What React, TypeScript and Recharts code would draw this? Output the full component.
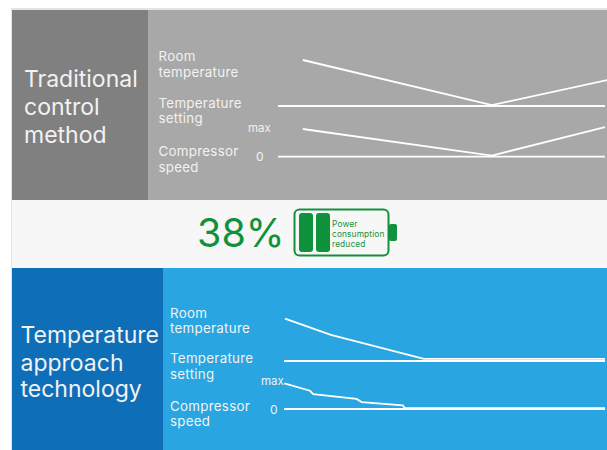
import React from "react";
import { LineChart, Line, XAxis, YAxis } from "recharts";

const W = 607;
const H = 450;
const FONT = "Inter, 'Noto Sans', sans-serif";

type P = { t: number; v: number };
const pts = (ts: number[], vs: number[]): P[] => ts.map((t, i) => ({ t, v: vs[i] }));

// Traditional control method (time %, level %)
const tradRoomTime = [7.6, 65.4, 101];
const tradRoomValue = [100, 2, 57];
const tradSettingTime = [0, 100];
const tradSettingValue = [0, 0];
const tradSpeedTime = [7.6, 65.4, 100];
const tradSpeedValue = [100, 4, 107];
const tradZeroTime = [0, 100];
const tradZeroValue = [0, 0];

// Temperature approach technology (time %, level %)
const techRoomTime = [0.3, 14.6, 43.6, 100];
const techRoomValue = [100, 62, 5, 5];
const techSettingTime = [0, 100];
const techSettingValue = [0, 0];
const techSpeedTime = [0.1, 8.1, 9.1, 22.6, 24.2, 37, 37.7, 100];
const techSpeedValue = [100, 71, 58, 39, 27, 14, 3, 3];
const techZeroTime = [0, 100];
const techZeroValue = [0, 0];

const xDomain = (p0: number, p100: number): [number, number] => {
  const k = 100 / (p100 - p0);
  return [-p0 * k, (W - p0) * k];
};
const yDomain = (p0: number, p100: number): [number, number] => {
  const k = 100 / (p0 - p100);
  return [(p0 - H) * k, p0 * k];
};

const Txt = ({ x, y, size, fill = "#f2f2f2", spacing = 0, children }: any) => (
  <text x={x} y={y} fontSize={size} fill={fill} fontFamily={FONT} letterSpacing={spacing}>
    {children}
  </text>
);
const Label = ({ x, y, children }: any) => (
  <Txt x={x} y={y} size={13.3} spacing={0.3}>{children}</Txt>
);

const GREEN = "#10913c";

export default function App() {
  const line = (id: string, xId: string, yId: string, data: P[], sw = 1.8) => (
    <Line
      key={id}
      data={data}
      dataKey="v"
      xAxisId={xId}
      yAxisId={yId}
      type="linear"
      stroke="#ffffff"
      strokeWidth={sw}
      dot={false}
      activeDot={false}
      isAnimationActive={false}
    />
  );
  return (
    <div style={{ position: "absolute", left: 0, top: 0, width: W, height: H, background: "#fff" }}>
      <LineChart width={W} height={H} margin={{ top: 0, right: 0, bottom: 0, left: 0 }}>
        {/* panels */}
        <rect x={11} y={8} width={596} height={442} fill="#e4e4e4" />
        <rect x={12} y={10} width={595} height={440} fill="#f7f7f7" />
        <rect x={12} y={10} width={136} height={190} fill="#808080" />
        <rect x={148} y={10} width={459} height={190} fill="#a8a8a8" />
        <rect x={12} y={268} width={151} height={182} fill="#0f6eb8" />
        <rect x={163} y={268} width={444} height={182} fill="#29a6e1" />

        <XAxis xAxisId="trad" type="number" dataKey="t" domain={xDomain(278, 605)} hide allowDataOverflow />
        <XAxis xAxisId="tech" type="number" dataKey="t" domain={xDomain(284, 605)} hide allowDataOverflow />
        <YAxis yAxisId="tradTemp" type="number" domain={yDomain(106, 60)} hide allowDataOverflow />
        <YAxis yAxisId="tradSpeed" type="number" domain={yDomain(156.7, 129)} hide allowDataOverflow />
        <YAxis yAxisId="techTemp" type="number" domain={yDomain(361, 318.7)} hide allowDataOverflow />
        <YAxis yAxisId="techSpeed" type="number" domain={yDomain(409, 383.3)} hide allowDataOverflow />

        {line("a", "trad", "tradTemp", pts(tradRoomTime, tradRoomValue))}
        {line("b", "trad", "tradTemp", pts(tradSettingTime, tradSettingValue))}
        {line("c", "trad", "tradSpeed", pts(tradSpeedTime, tradSpeedValue))}
        {line("d", "trad", "tradSpeed", pts(tradZeroTime, tradZeroValue))}
        {line("e", "tech", "techTemp", pts(techRoomTime, techRoomValue))}
        {line("f", "tech", "techTemp", pts(techSettingTime, techSettingValue))}
        {line("g", "tech", "techSpeed", pts(techSpeedTime, techSpeedValue))}
        {line("h", "tech", "techSpeed", pts(techZeroTime, techZeroValue))}

        {/* top panel text */}
        <Txt x={24} y={87} size={23}>Traditional</Txt>
        <Txt x={24} y={115} size={23}>control</Txt>
        <Txt x={24} y={143} size={23}>method</Txt>
        <Label x={158.5} y={61}>Room</Label>
        <Label x={158.5} y={76.5}>temperature</Label>
        <Label x={158.5} y={107.5}>Temperature</Label>
        <Label x={158.5} y={123}>setting</Label>
        <Txt x={248} y={132} size={11.5}>max</Txt>
        <Label x={158.5} y={156}>Compressor</Label>
        <Label x={158.5} y={171.5}>speed</Label>
        <Txt x={256} y={161} size={12}>0</Txt>

        {/* middle strip */}
        <text x={197} y={247} fontSize={39.5} fill={GREEN} fontFamily={FONT}>38%</text>
        <rect x={294.5} y={209.5} width={94} height={46} rx={5} fill="none" stroke={GREEN} strokeWidth={2} />
        <rect x={299} y={213} width={14} height={39} rx={3} fill={GREEN} />
        <rect x={316} y={213} width={14} height={39} rx={3} fill={GREEN} />
        <rect x={389} y={224} width={8} height={17} rx={2} fill={GREEN} />
        <Txt x={332} y={226.5} size={8.3} spacing={0.15} fill={GREEN}>Power</Txt>
        <Txt x={332} y={236.5} size={8.3} spacing={0.15} fill={GREEN}>consumption</Txt>
        <Txt x={332} y={246.5} size={8.3} spacing={0.15} fill={GREEN}>reduced</Txt>

        {/* bottom panel text */}
        <Txt x={20.5} y={343} size={23}>Temperature</Txt>
        <Txt x={20.5} y={371} size={23}>approach</Txt>
        <Txt x={20.5} y={397} size={23}>technology</Txt>
        <Label x={170} y={317.5}>Room</Label>
        <Label x={170} y={333}>temperature</Label>
        <Label x={170} y={363}>Temperature</Label>
        <Label x={170} y={379}>setting</Label>
        <Txt x={261} y={385} size={11.5}>max</Txt>
        <Label x={170} y={410.5}>Compressor</Label>
        <Label x={170} y={426}>speed</Label>
        <Txt x={270} y={414} size={12}>0</Txt>
      </LineChart>
    </div>
  );
}
